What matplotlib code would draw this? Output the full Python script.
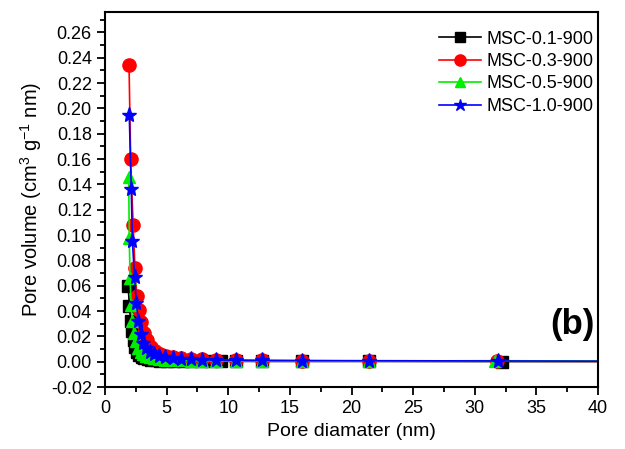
import matplotlib
matplotlib.use("Agg")
import matplotlib.pyplot as plt
from matplotlib.ticker import MultipleLocator, FormatStrFormatter

plt.rcParams['font.family'] = ['Liberation Sans', 'DejaVu Sans']
plt.rcParams['mathtext.fontset'] = 'custom'
plt.rcParams['mathtext.rm'] = 'Liberation Sans'
plt.rcParams['mathtext.it'] = 'Liberation Sans:italic'

labels = ["MSC-0.1-900", "MSC-0.3-900", "MSC-0.5-900", "MSC-1.0-900"]

x_01 = [1.88, 1.98, 2.08, 2.2, 2.32, 2.45, 2.6, 2.78, 2.98, 3.2, 3.45, 3.75, 4.1,
        4.5, 5.0, 5.6, 6.3, 7.0, 7.8, 8.6, 9.4, 10.6, 12.7, 16.0, 21.4, 32.2, 45.0]
y_01 = [0.060, 0.0436, 0.0318, 0.024, 0.017, 0.012, 0.008, 0.0055, 0.004, 0.003,
        0.0022, 0.0016, 0.0012, 0.0009, 0.0007, 0.0005, 0.0004, 0.0004, 0.0003,
        0.0003, 0.0003, 0.0003, 0.0002, 0.0002, 0.0002, 0.0001, 0.0001]

x_03 = [1.95, 2.08, 2.28, 2.43, 2.58, 2.75, 2.95, 3.15, 3.4, 3.7, 4.05, 4.45, 4.95,
        5.5, 6.2, 7.0, 7.9, 9.0, 10.6, 12.7, 16.0, 21.4, 31.8, 45.0]
y_03 = [0.234, 0.160, 0.108, 0.0743, 0.052, 0.0405, 0.031, 0.023, 0.017, 0.012,
        0.0085, 0.006, 0.0045, 0.0035, 0.0028, 0.0022, 0.0018, 0.0015, 0.0012,
        0.001, 0.0008, 0.0006, 0.0004, 0.0002]

x_05 = [1.92, 1.97, 2.03, 2.12, 2.22, 2.35, 2.5, 2.68, 2.88, 3.1, 3.35, 3.65, 4.0,
        4.4, 4.9, 5.5, 6.2, 7.0, 7.9, 9.0, 10.6, 12.7, 16.0, 21.4, 31.6, 45.0]
y_05 = [0.146, 0.0974, 0.066, 0.045, 0.032, 0.023, 0.016, 0.011, 0.008, 0.006,
        0.0045, 0.0035, 0.0027, 0.002, 0.0016, 0.0013, 0.001, 0.0009, 0.0008,
        0.0007, 0.0006, 0.0006, 0.0005, 0.0005, 0.0008, 0.0003]

x_10 = [1.97, 2.13, 2.22, 2.4, 2.55, 2.7, 2.9, 3.1, 3.35, 3.65, 4.0, 4.4, 4.9,
        5.5, 6.2, 7.0, 7.9, 9.0, 10.6, 12.7, 16.0, 21.4, 31.9, 45.0]
y_10 = [0.1945, 0.136, 0.0953, 0.0667, 0.046, 0.0318, 0.022, 0.015, 0.011, 0.008,
        0.006, 0.0045, 0.0035, 0.0028, 0.0022, 0.0018, 0.0015, 0.0013, 0.0012,
        0.001, 0.0009, 0.0008, 0.0006, 0.0003]

colors = ["#000000", "#ff0000", "#00ee00", "#0000ff"]
markers = ["s", "o", "^", "*"]
msizes = [8, 9.5, 9, 11]

fig = plt.figure(figsize=(6.25, 4.49), dpi=100)
ax = fig.add_axes([0.168, 0.138, 0.789, 0.835])

for xs, ys, c, m, ms, lab in zip([x_01, x_03, x_05, x_10], [y_01, y_03, y_05, y_10],
                                 colors, markers, msizes, labels):
    ax.plot(xs, ys, color=c, marker=m, markersize=ms, markeredgecolor=c,
            markerfacecolor=c, linewidth=1.2, label=lab)

ax.set_xlim(0, 40)
ax.set_ylim(-0.02, 0.276)
ax.xaxis.set_major_locator(MultipleLocator(5))
ax.xaxis.set_minor_locator(MultipleLocator(2.5))
ax.yaxis.set_major_locator(MultipleLocator(0.02))
ax.yaxis.set_minor_locator(MultipleLocator(0.01))
ax.yaxis.set_major_formatter(FormatStrFormatter('%.2f'))
ax.tick_params(which='both', direction='out', top=False, right=False, labelsize=13, width=1.3)
ax.tick_params(which='major', length=6)
ax.tick_params(which='minor', length=3.5)
for s in ax.spines.values():
    s.set_linewidth(1.5)

ax.set_xlabel("Pore diamater (nm)", fontsize=14, labelpad=4)
ax.set_ylabel("Pore volume (cm$^{3}$ g$^{-1}$ nm)", fontsize=14.5, labelpad=5)

ax.text(37.9, 0.029, "(b)", fontsize=25, fontweight='bold', ha='center', va='center')

leg = ax.legend(loc='upper right', frameon=False, fontsize=13, handlelength=2.3,
                labelspacing=0.3, handletextpad=0.3, borderaxespad=0.0,
                markerscale=0.85, bbox_to_anchor=(1.005, 0.97))

fig.savefig("out.png", dpi=100)
